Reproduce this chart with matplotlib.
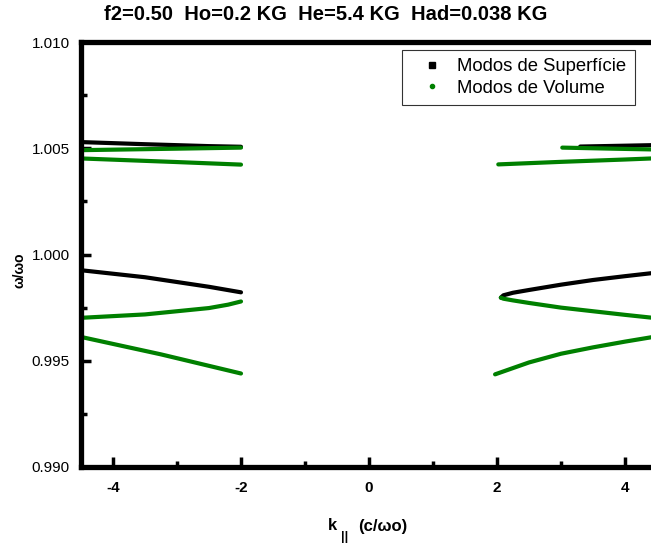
import matplotlib
matplotlib.use("Agg")
import matplotlib.pyplot as plt
from matplotlib.lines import Line2D
from matplotlib.ticker import MultipleLocator, FormatStrFormatter

plt.rcParams['font.family'] = ['Liberation Sans', 'DejaVu Sans']
plt.rcParams['axes.unicode_minus'] = False

# surface modes (black)
surf_up_l_k = [-4.5, -3.5, -2.5, -2.0]
surf_up_l_w = [1.00529, 1.00519, 1.00510, 1.00507]
surf_low_l_k = [-4.5, -3.5, -2.5, -2.0]
surf_low_l_w = [0.99926, 0.99893, 0.99848, 0.99822]
surf_up_r_k = [3.3, 4.0, 4.5]
surf_up_r_w = [1.00508, 1.00512, 1.00515]
surf_low_r_k = [2.06, 2.1, 2.25, 2.5, 3.0, 3.5, 4.0, 4.5]
surf_low_r_w = [0.99797, 0.99808, 0.99820, 0.99833, 0.99858, 0.99880,
                0.99898, 0.99915]

# volume modes (green)
vol_up_l_k = [-4.5, -3.0, -2.0]
vol_up_l_w = [1.00491, 1.00498, 1.00503]
vol_mid_l_k = [-4.5, -3.0, -2.0]
vol_mid_l_w = [1.00452, 1.00435, 1.00423]
vol_low_l_k = [-4.5, -3.5, -2.5, -2.2, -2.0]
vol_low_l_w = [0.99702, 0.99718, 0.99748, 0.99764, 0.99779]
vol_bot_l_k = [-4.5, -3.25, -2.0]
vol_bot_l_w = [0.99612, 0.99530, 0.99440]
vol_up_r_k = [3.02, 3.8, 4.5]
vol_up_r_w = [1.00503, 1.00498, 1.00494]
vol_mid_r_k = [2.02, 3.0, 4.0, 4.5]
vol_mid_r_w = [1.00424, 1.00436, 1.00447, 1.00453]
vol_low_r_k = [2.06, 2.1, 2.25, 2.5, 3.0, 3.5, 4.0, 4.5]
vol_low_r_w = [0.99797, 0.99792, 0.99784, 0.99772, 0.99750, 0.99733,
               0.99716, 0.99700]
vol_bot_r_k = [1.97, 2.5, 3.0, 3.5, 4.0, 4.5]
vol_bot_r_w = [0.99436, 0.99492, 0.99533, 0.99563, 0.99590, 0.99615]

surf = [(surf_up_l_k, surf_up_l_w), (surf_low_l_k, surf_low_l_w),
        (surf_up_r_k, surf_up_r_w), (surf_low_r_k, surf_low_r_w)]
vol = [(vol_up_l_k, vol_up_l_w), (vol_mid_l_k, vol_mid_l_w),
       (vol_low_l_k, vol_low_l_w), (vol_bot_l_k, vol_bot_l_w),
       (vol_up_r_k, vol_up_r_w), (vol_mid_r_k, vol_mid_r_w),
       (vol_low_r_k, vol_low_r_w), (vol_bot_r_k, vol_bot_r_w)]

W, H = 651, 550
fig = plt.figure(figsize=(W / 100, H / 100), dpi=100)
ax = fig.add_axes([81 / W, (H - 467) / H, (657 - 81) / W, (467 - 42) / H])

for k, w in surf:
    ax.plot(k, w, color='black', lw=3, solid_capstyle='round',
            solid_joinstyle='round')
for k, w in vol:
    ax.plot(k, w, color='#008000', lw=3, solid_capstyle='round',
            solid_joinstyle='round')

ax.set_xlim(-4.5, 4.5)
ax.set_ylim(0.990, 1.010)
ax.xaxis.set_major_locator(MultipleLocator(2))
ax.xaxis.set_minor_locator(MultipleLocator(1))
ax.yaxis.set_major_locator(MultipleLocator(0.005))
ax.yaxis.set_minor_locator(MultipleLocator(0.0025))
ax.yaxis.set_major_formatter(FormatStrFormatter('%.3f'))

for s in ax.spines.values():
    s.set_linewidth(3.8)
ax.tick_params(which='both', direction='in', top=False, right=False,
               width=2.5, colors='black')
ax.tick_params(which='major', length=7)
ax.tick_params(which='minor', length=4)
ax.tick_params(axis='x', pad=10, labelsize=11)
ax.tick_params(axis='y', pad=8, labelsize=11)
for lab in ax.get_xticklabels():
    lab.set_fontweight('bold')

fig.text(0.5, 1 - 14 / H, 'f2=0.50  Ho=0.2 KG  He=5.4 KG  Had=0.038 KG',
         ha='center', va='center', fontsize=14.5, fontweight='bold')

fig.text(20 / W, 1 - 270 / H, 'ω/ωo', rotation=90, ha='center',
         va='center', fontsize=10, fontweight='bold')
fig.text(332 / W, 1 - 526 / H, 'k', ha='center', va='center',
         fontsize=12, fontweight='bold')
fig.text(345 / W, 1 - 537 / H, '||', ha='center', va='center',
         fontsize=9, fontweight='bold')
fig.text(383 / W, 1 - 526 / H, '(c/ωo)', ha='center', va='center',
         fontsize=12, fontweight='bold')

handles = [Line2D([], [], ls='none', marker='s', ms=4, color='black'),
           Line2D([], [], ls='none', marker='o', ms=3, color='#008000')]
leg = ax.legend(handles, ['Modos de Superfície', 'Modos de Volume'],
                loc='upper left', bbox_to_anchor=(402 / W, 1 - 50 / H),
                bbox_transform=fig.transFigure, fontsize=13.3,
                frameon=True, fancybox=False, edgecolor='black',
                borderpad=0.45, labelspacing=0.25, handletextpad=0.2,
                handlelength=2.35, borderaxespad=0)
leg.get_frame().set_linewidth(0.8)

fig.savefig('out.png', dpi=100)
